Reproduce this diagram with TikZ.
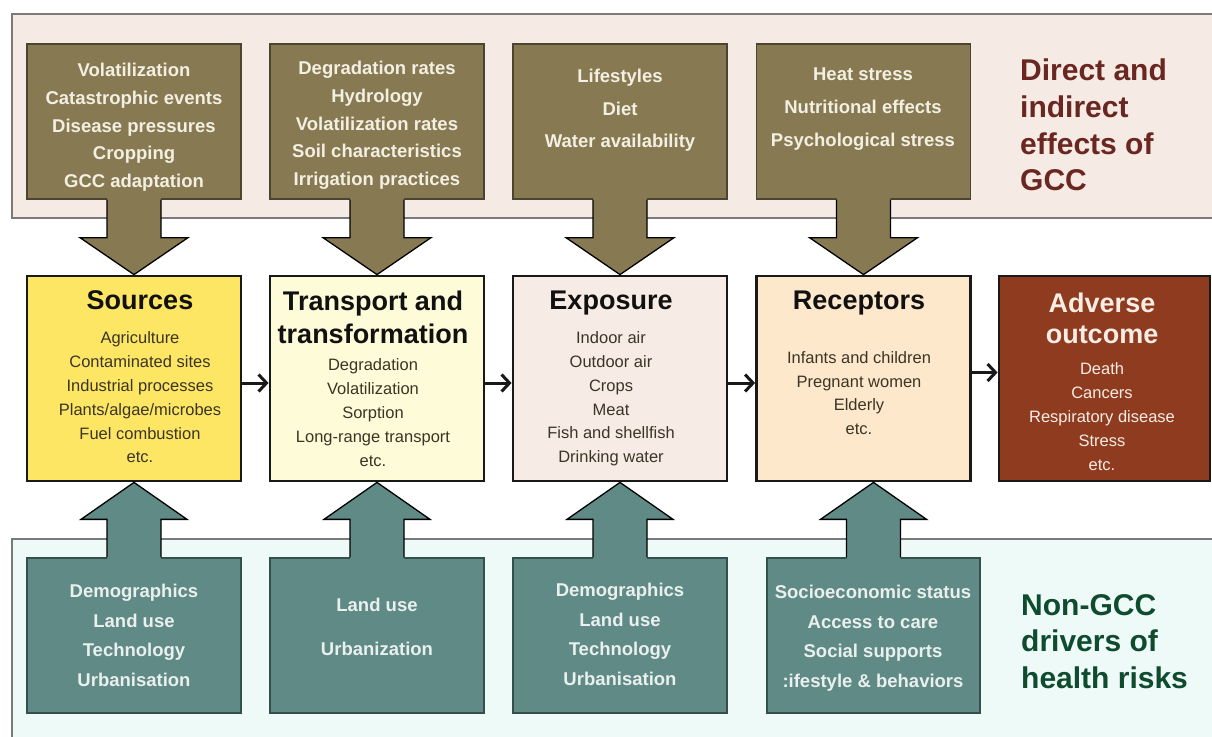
\documentclass[tikz,border=0pt]{standalone}
\usepackage{fontspec}
\setmainfont{Liberation Sans}
\usetikzlibrary{arrows.meta,calc}
\definecolor{olivebox}{HTML}{877A52}
\definecolor{olivedark}{HTML}{4A4430}
\definecolor{toptxt}{HTML}{F3EFE2}
\definecolor{tealbox}{HTML}{5F8A86}
\definecolor{tealdark}{HTML}{34504D}
\definecolor{bottxt}{HTML}{EAF0EE}
\definecolor{toppanel}{HTML}{F5EBE4}
\definecolor{botpanel}{HTML}{EEFAF7}
\definecolor{panelline}{HTML}{7A7A7A}
\definecolor{srcfill}{HTML}{FDE664}
\definecolor{trnfill}{HTML}{FEFBD9}
\definecolor{expfill}{HTML}{F6EBE5}
\definecolor{recfill}{HTML}{FEE8CB}
\definecolor{advfill}{HTML}{8E3B1F}
\definecolor{advtxt}{HTML}{F8ECE4}
\definecolor{bodycol}{HTML}{3B3526}
\definecolor{titlecol}{HTML}{111111}
\definecolor{gcccol}{HTML}{6A2620}
\definecolor{noncol}{HTML}{0F4B2E}
\newcommand{\myarrdown}[3]{%
  \fill[#3] ($(#1.south)+(-27,-2)$) -- ($(#1.south)+(-27,38)$) -- ($(#1.south)+(-54,38)$)
    -- (#1.south |- #2.north) -- ($(#1.south)+(54,38)$) -- ($(#1.south)+(27,38)$)
    -- ($(#1.south)+(27,-2)$) -- cycle;
  \draw[blkline] ($(#1.south)+(-27,0)$) -- ($(#1.south)+(-27,38)$) -- ($(#1.south)+(-54,38)$)
    -- (#1.south |- #2.north) -- ($(#1.south)+(54,38)$) -- ($(#1.south)+(27,38)$)
    -- ($(#1.south)+(27,0)$);}
\newcommand{\myarrup}[3]{%
  \fill[#3] ($(#1.north)+(-27,2)$) -- ($(#1.north)+(-27,-38)$) -- ($(#1.north)+(-53,-38)$)
    -- (#1.north |- #2.south) -- ($(#1.north)+(53,-38)$) -- ($(#1.north)+(27,-38)$)
    -- ($(#1.north)+(27,2)$) -- cycle;
  \draw[blkline] ($(#1.north)+(-27,0)$) -- ($(#1.north)+(-27,-38)$) -- ($(#1.north)+(-53,-38)$)
    -- (#1.north |- #2.south) -- ($(#1.north)+(53,-38)$) -- ($(#1.north)+(27,-38)$)
    -- ($(#1.north)+(27,0)$);}
\begin{document}
\begin{tikzpicture}[x=1pt,y=-1pt,
  topbox/.style={draw=olivedark, line width=1.3pt, fill=olivebox, minimum width=214pt, minimum height=155pt, inner sep=0pt},
  botbox/.style={draw=tealdark, line width=1.3pt, fill=tealbox, minimum width=214pt, minimum height=155pt, inner sep=0pt},
  midbox/.style={draw=black!90, line width=2.8pt, minimum width=214pt, minimum height=205pt, inner sep=0pt},
  toptext/.style={text=toptxt, font=\fontsize{18.5}{27.7}\selectfont\bfseries, align=center, inner sep=0pt},
  bottext/.style={text=bottxt, font=\fontsize{18.5}{29.5}\selectfont\bfseries, align=center, inner sep=0pt},
  titletext/.style={text=titlecol, font=\fontsize{27}{33}\selectfont\bfseries, align=center, inner sep=0pt},
  bodytext/.style={text=bodycol, font=\fontsize{16.5}{23.8}\selectfont, align=center, inner sep=0pt},
  sidetext/.style={font=\fontsize{30}{36.7}\selectfont\bfseries, align=left, anchor=west, inner sep=0pt},
  blkline/.style={line width=1.3pt, line join=miter},
  harr/.style={line width=3pt, black!90, -{Straight Barb[length=8pt,width=17pt,line width=3pt]}},
  oliveblk/.style={fill=olivebox},
  tealblk/.style={fill=tealbox}]
\useasboundingbox (0,0) rectangle (1212,736);
\fill[white] (0,0) rectangle (1212,736);
% panels
\draw[fill=toppanel, draw=panelline, line width=1.5pt] (12,14) rectangle (1230,218);
\draw[fill=botpanel, draw=panelline, line width=1.5pt] (12,539) rectangle (1230,760);
% top boxes
\node[topbox] (t1) at (134,121.5) {};
\node[topbox] (t2) at (377,121.5) {};
\node[topbox] (t3) at (620,121.5) {};
\node[topbox] (t4) at (863.5,121.5) {};
% middle boxes
\node[midbox, fill=srcfill] (m1) at (134,378.5) {};
\node[midbox, fill=trnfill] (m2) at (377,378.5) {};
\node[midbox, fill=expfill] (m3) at (620,378.5) {};
\node[midbox, fill=recfill] (m4) at (863.5,378.5) {};
\node[midbox, fill=advfill, minimum width=211pt] (m5) at (1104.5,378.5) {};
% bottom boxes
\node[botbox] (b1) at (134,635.5) {};
\node[botbox] (b2) at (377,635.5) {};
\node[botbox] (b3) at (620,635.5) {};
\node[botbox, minimum width=213pt] (b4) at (873.5,635.5) {};
% block arrows
\myarrdown{t1}{m1}{oliveblk}
\myarrdown{t2}{m2}{oliveblk}
\myarrdown{t3}{m3}{oliveblk}
\myarrdown{t4}{m4}{oliveblk}
\myarrup{b1}{m1}{tealblk}
\myarrup{b2}{m2}{tealblk}
\myarrup{b3}{m3}{tealblk}
\myarrup{b4}{m4}{tealblk}
% horizontal arrows
\draw[harr] ([yshift=-4.5pt]m1.east) -- ([yshift=-4.5pt]m2.west);
\draw[harr] ([yshift=-4.5pt]m2.east) -- ([yshift=-4.5pt]m3.west);
\draw[harr] ([yshift=-4.5pt]m3.east) -- ([yshift=-4.5pt]m4.west);
\draw[harr] ([yshift=6pt]m4.east) -- ([yshift=6pt]m5.west);
% top texts
\node[toptext] (tt1) at (134,127.5) {Volatilization\\Catastrophic events\\Disease pressures\\Cropping\\GCC adaptation};
\node[toptext] (tt2) at (377,125.5) {Degradation rates\\Hydrology\\Volatilization rates\\Soil characteristics\\Irrigation practices};
\node[toptext, font=\fontsize{18.5}{32.5}\selectfont\bfseries] (tt3) at (620,110.5) {Lifestyles\\Diet\\Water availability};
\node[toptext, font=\fontsize{18.5}{33}\selectfont\bfseries] (tt4) at (863,109) {Heat stress\\Nutritional effects\\Psychological stress};
% middle texts
\node[titletext] (mt1) at (140,300) {Sources};
\node[bodytext] (mb1) at (140,397.5) {Agriculture\\Contaminated sites\\Industrial processes\\Plants/algae/microbes\\Fuel combustion\\etc.};
\node[titletext] (mt2) at (373,317.5) {Transport and\\transformation};
\node[bodytext] (mb2) at (373,412.5) {Degradation\\Volatilization\\Sorption\\Long-range transport\\etc.};
\node[titletext] (mt3) at (611,303) {Exposure};
\node[bodytext] (mb3) at (611,399) {Indoor air\\Outdoor air\\Crops\\Meat\\Fish and shellfish\\Drinking water};
\node[titletext] (mt4) at (859,303) {Receptors};
\node[bodytext] (mb4) at (859,393) {Infants and children\\Pregnant women\\Elderly\\etc.};
\node[titletext, text=advtxt, font=\fontsize{27}{31}\selectfont\bfseries] (mt5) at (1102,318) {Adverse\\outcome};
\node[bodytext, text=advtxt] (mb5) at (1102,416.5) {Death\\Cancers\\Respiratory disease\\Stress\\etc.};
% bottom texts
\node[bottext] (bt1) at (134,635.5) {Demographics\\Land use\\Technology\\Urbanisation};
\node[bottext] (bt2) at (377,627) {Land use\\[14.5pt]Urbanization};
\node[bottext] (bt3) at (620,634.5) {Demographics\\Land use\\Technology\\Urbanisation};
\node[bottext] (bt4) at (873,638) {Socioeconomic status\\Access to care\\Social supports\\:ifestyle \& behaviors};
% side labels
\node[sidetext, text=gcccol] (lab1) at (1020,125) {Direct and\\indirect\\effects of\\GCC};
\node[sidetext, text=noncol] (lab2) at (1021,641.5) {Non-GCC\\drivers of\\health risks};
\end{tikzpicture}
\end{document}
